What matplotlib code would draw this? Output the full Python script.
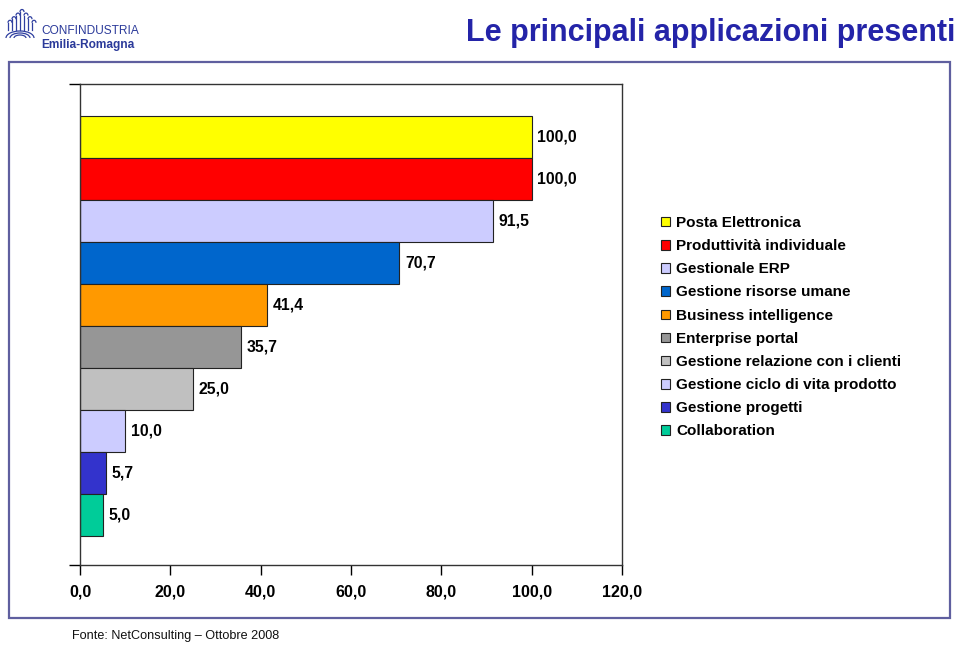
#!/usr/bin/python3

import matplotlib
matplotlib.use('Agg')
import matplotlib.pyplot as plt
from matplotlib.patches import Patch, Rectangle, Arc
import numpy as np

# data, top to bottom as in the chart
categories = ['Posta Elettronica', 'Produttività individuale', 'Gestionale ERP',
              'Gestione risorse umane', 'Business intelligence', 'Enterprise portal',
              'Gestione relazione con i clienti', 'Gestione ciclo di vita prodotto',
              'Gestione progetti', 'Collaboration']
values = [100.0, 100.0, 91.5, 70.7, 41.4, 35.7, 25.0, 10.0, 5.7, 5.0]
colors = ['#FFFF00', '#FF0000', '#CCCCFF', '#0066CC', '#FF9900', '#969696',
          '#C0C0C0', '#CCCCFF', '#3333CC', '#00CC99']
xticks = [0, 20, 40, 60, 80, 100, 120]

W, H = 959, 645
plt.rcParams['font.family'] = ['Liberation Sans', 'DejaVu Sans']

fig = plt.figure(figsize=(W / 100, H / 100), dpi=100)


def fx(px):
    return px / W


def fy(py):
    return 1 - py / H


# outer frame
fig.add_artist(Rectangle((fx(9), fy(618)), fx(950) - fx(9), fy(62) - fy(618),
                         transform=fig.transFigure, fill=False,
                         edgecolor='#5F5F9F', lw=1.6))

# title
fig.text(fx(955), fy(33), 'Le principali applicazioni presenti', ha='right',
         va='center', fontsize=22, fontweight='bold', color='#2424A8')

# logo
lax = fig.add_axes([fx(2), fy(42), fx(38) - fx(2), fy(2) - fy(42)])
lax.set_xlim(0, 36)
lax.set_ylim(0, 40)
lax.axis('off')
for cx in [6, 10, 14, 18, 22, 26, 30]:
    h = 30 - abs(cx - 18) * 0.9
    lax.plot([cx, cx], [12, h], color='#3040A0', lw=0.9)
    lax.add_patch(Arc((cx + 2, h), 4, 5, theta1=0, theta2=180, color='#3040A0', lw=0.9))
for r in [6, 10, 14]:
    lax.add_patch(Arc((18, 4), r * 2, r, theta1=0, theta2=180, color='#3040A0', lw=0.9))
fig.text(fx(41), fy(31), 'CONFINDUSTRIA', ha='left', va='center', fontsize=8.6,
         color='#2B3A9A')
fig.text(fx(41), fy(45), 'Emilia-Romagna', ha='left', va='center', fontsize=8.6,
         fontweight='bold', color='#2B3A9A')

# footer
fig.text(fx(72), fy(636), 'Fonte: NetConsulting \u2013 Ottobre 2008', ha='left',
         va='center', fontsize=9.1, color='#111111')

# chart
ax = fig.add_axes([fx(80), fy(565), fx(622) - fx(80), fy(84) - fy(565)])
n = len(values)
pos = np.arange(n)[::-1]
bars = ax.barh(pos, values, height=1.0, color=colors, edgecolor='#222222', lw=0.8)
for p, v in zip(pos, values):
    ax.annotate(('%.1f' % v).replace('.', ','), (v, p), xytext=(4, 0),
                textcoords='offset points', ha='left', va='center',
                fontsize=11.3, fontweight='bold')

ax.set_xlim(0, 120)
ylo, yhi = -1.19, 10.26
ax.set_ylim(ylo, yhi)
ax.set_xticks(xticks)
ax.set_xticklabels([('%.1f' % t).replace('.', ',') for t in xticks],
                   fontsize=11.5, fontweight='bold')
ax.set_yticks([ylo, yhi])
ax.set_yticklabels(['', ''])
ax.tick_params(axis='x', direction='out', length=7, width=1, pad=7)
ax.tick_params(axis='y', direction='out', length=8, width=1)
for s in ax.spines.values():
    s.set_color('#333333')
    s.set_linewidth(1)

handles = [Patch(facecolor=c, edgecolor='#222222', lw=0.8) for c in colors]
fig.legend(handles, categories, loc='upper left',
           bbox_to_anchor=(fx(661), fy(216)), frameon=False, borderpad=0,
           borderaxespad=0, handlelength=0.58, handleheight=0.58,
           handletextpad=0.42, labelspacing=0.6,
           prop={'size': 11, 'weight': 'bold'})

fig.savefig('out.png', dpi=100)
